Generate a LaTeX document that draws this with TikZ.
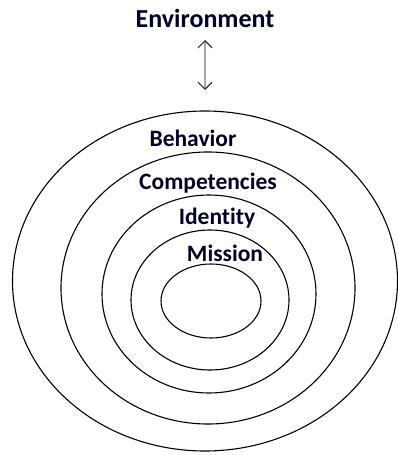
\documentclass[tikz,border=0pt]{standalone}
\usepackage{fontspec}
\setmainfont[Ligatures=NoCommon]{Carlito}
\usetikzlibrary{shapes.geometric,arrows.meta}
\tikzset{
	ring/.style={draw, ellipse, line width=1.1pt, inner sep=0pt},
	lbl/.style={font=\bfseries\fontsize{23.5}{26}\selectfont, text=black!85!blue, inner sep=0pt},
	barb/.tip={Straight Barb[length=7pt,width=14pt,color=black!80]},
}
\begin{document}
\begin{tikzpicture}[x=1pt, y=-1pt]
		\useasboundingbox (0,0) rectangle (398,455);
		% Rings
		\node[ring, minimum width=385pt, minimum height=340pt] (Behav) at (205,281) {} ;
		\node[ring, minimum width=294pt, minimum height=272pt] (Comp) at (208,288) {} ;
		\node[ring, minimum width=214pt, minimum height=198pt] (Ident) at (209,294) {} ;
		\node[ring, minimum width=158pt, minimum height=140pt] (Miss) at (210,300) {} ;
		\node[ring, minimum width=100pt, minimum height=74pt] (Core) at (211,301) {} ;
		% Labels
		\node[lbl, font=\bfseries\fontsize{26}{28}\selectfont] (Env) at (205,18) {Environment} ;
		\node[lbl] (BehavLbl) at (193,138) {Behavior} ;
		\node[lbl] (CompLbl) at (208,183) {Competencies} ;
		\node[lbl] (IdentLbl) at (217,218) {Identity} ;
		\node[lbl] (MissLbl) at (225,253) {Mission} ;
		% Link
		\coordinate (Top) at (205,90) ;
		\draw[barb-barb, black!35, line width=1.2pt] (Env.south |- 0,40) -- (Top) ;
	\end{tikzpicture}
\end{document}
